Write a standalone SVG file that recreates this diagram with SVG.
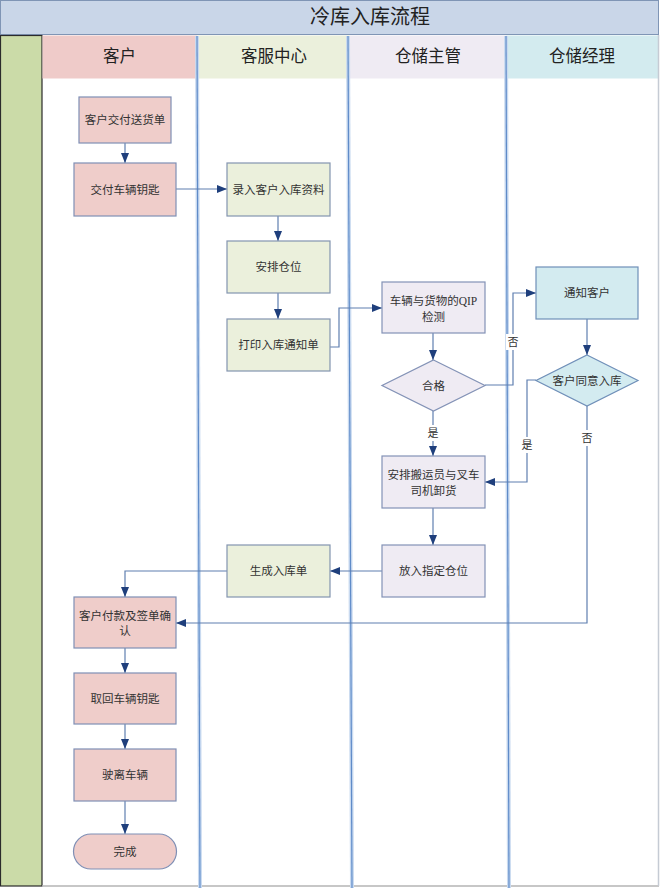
<svg xmlns="http://www.w3.org/2000/svg" width="660" height="888" viewBox="0 0 660 888">
<defs>
<marker id="ah" markerUnits="userSpaceOnUse" markerWidth="10" markerHeight="10" viewBox="0 0 10 10" refX="10" refY="5" orient="auto">
<path d="M0,1 L10,5 L0,9 Z" fill="#1f3f7c"/>
</marker>
<style>
text{font-family:"Liberation Serif","Noto Sans CJK SC",serif;fill:#333;text-anchor:middle;dominant-baseline:central}
.n{font-size:11.5px}
.h{font-size:16.5px;fill:#222}
.lbl{font-size:11px}
.c{fill:none;stroke:#5f7fb0;stroke-width:1.2;marker-end:url(#ah)}
.cn{fill:none;stroke:#5f7fb0;stroke-width:1.2}
.kh{fill:#efcdca;stroke:#7f8fb5;stroke-width:1.2}
.kf{fill:#ebf0dc;stroke:#8394b0;stroke-width:1.2}
.zg{fill:#efebf3;stroke:#8392b6;stroke-width:1.2}
.jl{fill:#d3ebf0;stroke:#6f8fb8;stroke-width:1.2}
.div1{stroke:#c9daf0;stroke-width:4}
.div2{stroke:#5f8bc8;stroke-width:1.2}
</style>
</defs>
<rect x="0" y="0" width="660" height="888" fill="#fff"/>
<g id="frame">
<rect x="0.5" y="0.5" width="658" height="34" fill="#c9d6e8" stroke="#7f95b5" stroke-width="1"/>
<text x="370" y="17" style="font-size:20px;fill:#222">冷库入库流程</text>
<rect x="0.5" y="35.5" width="41.5" height="850.5" fill="#cbdba8" stroke="#2b2b2b" stroke-width="1.2"/>
<rect x="42.5" y="35.5" width="154.5" height="43" fill="#efcbc9"/>
<rect x="197" y="35.5" width="152" height="43" fill="#ebf0dc"/>
<rect x="349" y="35.5" width="157" height="43" fill="#efebf3"/>
<rect x="506" y="35.5" width="152" height="43" fill="#d3ebef"/>
<text class="h" x="119.5" y="56.5">客户</text>
<text class="h" x="274" y="56.5">客服中心</text>
<text class="h" x="428" y="56.5">仓储主管</text>
<text class="h" x="582" y="56.5">仓储经理</text>
<line x1="42" y1="886" x2="659" y2="886" stroke="#b5b5b5" stroke-width="1.5"/>
<line x1="658.5" y1="35" x2="658.5" y2="886" stroke="#c5cbd4" stroke-width="1.5"/>
<line class="div1" x1="197" y1="36" x2="200" y2="888"/>
<line class="div2" x1="197" y1="36" x2="200" y2="888"/>
<line class="div1" x1="348" y1="36" x2="352" y2="888"/>
<line class="div2" x1="348" y1="36" x2="352" y2="888"/>
<line class="div1" x1="506" y1="36" x2="509" y2="888"/>
<line class="div2" x1="506" y1="36" x2="509" y2="888"/>
</g>
<g id="connectors">
<path class="c" d="M125,143 V163"/>
<path class="c" d="M176,189 H227"/>
<path class="c" d="M278,216 V241"/>
<path class="c" d="M278,293 V319"/>
<path class="c" d="M330,347 H339 V308 H382"/>
<path class="c" d="M433,333 V360"/>
<path class="c" d="M485,385 H513 V293 H536"/>
<path class="c" d="M433,411 V456"/>
<path class="c" d="M587,319 V355"/>
<path class="c" d="M536,380 H527 V482 H485"/>
<path class="c" d="M587,406 V623 H176"/>
<path class="c" d="M433,508 V545"/>
<path class="c" d="M382,571 H330"/>
<path class="c" d="M227,571 H125 V597"/>
<path class="c" d="M125,648 V673"/>
<path class="c" d="M125,724 V749"/>
<path class="c" d="M125,801 V834"/>
<rect x="506" y="334" width="14" height="16" fill="#fff"/>
<text class="lbl" x="513" y="342">否</text>
<rect x="426" y="425" width="14" height="16" fill="#fff"/>
<text class="lbl" x="433" y="433">是</text>
<rect x="520" y="437" width="14" height="16" fill="#fff"/>
<text class="lbl" x="527" y="445">是</text>
<rect x="580" y="430" width="14" height="16" fill="#fff"/>
<text class="lbl" x="587" y="438">否</text>
</g>
<g id="n1"><rect class="kh" x="79" y="97" width="92" height="46"/><text class="n" x="125" y="120">客户交付送货单</text></g>
<g id="n2"><rect class="kh" x="74" y="163" width="102" height="53"/><text class="n" x="125" y="189.5">交付车辆钥匙</text></g>
<g id="n3"><rect class="kf" x="227" y="163" width="103" height="53"/><text class="n" x="278.5" y="189.5">录入客户入库资料</text></g>
<g id="n4"><rect class="kf" x="227" y="241" width="103" height="52"/><text class="n" x="278.5" y="267">安排仓位</text></g>
<g id="n5"><rect class="kf" x="227" y="319" width="103" height="52"/><text class="n" x="278.5" y="345">打印入库通知单</text></g>
<g id="n6"><rect class="zg" x="382" y="282" width="103" height="51"/><text class="n" x="433.5" y="301">车辆与货物的QIP</text><text class="n" x="433.5" y="317">检测</text></g>
<g id="n7"><path class="zg" d="M433.5,360 L485,385.5 L433.5,411 L382,385.5 Z"/><text class="n" x="433.5" y="385.5">合格</text></g>
<g id="n8"><rect class="zg" x="382" y="456" width="103" height="52"/><text class="n" x="433.5" y="475">安排搬运员与叉车</text><text class="n" x="433.5" y="491">司机卸货</text></g>
<g id="n9"><rect class="zg" x="382" y="545" width="103" height="52"/><text class="n" x="433.5" y="571">放入指定仓位</text></g>
<g id="n10"><rect class="kf" x="227" y="545" width="103" height="52"/><text class="n" x="278.5" y="571">生成入库单</text></g>
<g id="n11"><rect class="jl" x="536" y="267" width="102" height="52"/><text class="n" x="587" y="293">通知客户</text></g>
<g id="n12"><path class="jl" d="M587,355 L638,380.5 L587,406 L536,380.5 Z"/><text class="n" x="587" y="380.5">客户同意入库</text></g>
<g id="n13"><rect class="kh" x="74" y="597" width="102" height="51"/><text class="n" x="125" y="616">客户付款及签单确</text><text class="n" x="125" y="631">认</text></g>
<g id="n14"><rect class="kh" x="74" y="673" width="102" height="51"/><text class="n" x="125" y="698.5">取回车辆钥匙</text></g>
<g id="n15"><rect class="kh" x="74" y="749" width="102" height="52"/><text class="n" x="125" y="775">驶离车辆</text></g>
<g id="n16"><rect class="kh" x="73.5" y="834" width="103" height="35" rx="17.5" ry="17.5"/><text class="n" x="125" y="851.5">完成</text></g>
</svg>
